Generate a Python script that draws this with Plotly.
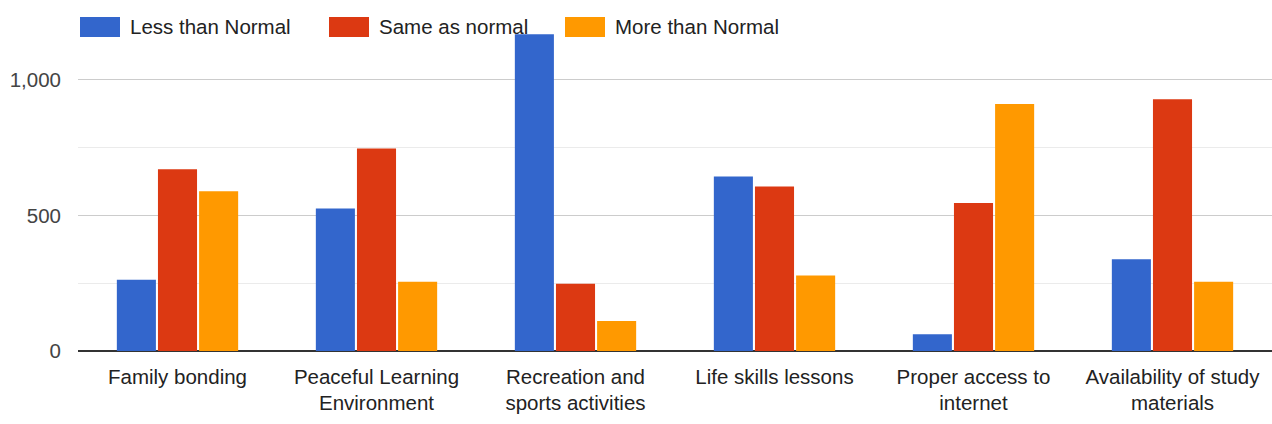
import plotly.graph_objects as go

categories = ["Family bonding", "Peaceful Learning<br>Environment", "Recreation and<br>sports activities",
              "Life skills lessons", "Proper access to<br>internet", "Availability of study<br>materials"]
series_names = ["Less than Normal", "Same as normal", "More than Normal"]
less_than_normal = [263, 525, 1168, 643, 62, 338]
same_as_normal = [670, 747, 248, 607, 546, 928]
more_than_normal = [589, 255, 111, 278, 911, 255]
colors = ["#3366cc", "#dc3912", "#ff9900"]
y_tickvals = [0, 500, 1000]
y_ticktext = ["0", "500", "1,000"]

W, H = 1272, 424
L, R, T, B = 78, 0, 12, 73

fig = go.Figure()
for name, vals, c in zip(series_names, [less_than_normal, same_as_normal, more_than_normal], colors):
    fig.add_trace(go.Bar(x=categories, y=vals, name=name, marker=dict(color=c, line=dict(width=0)),
                         showlegend=False))

fig.update_layout(
    width=W, height=H,
    margin=dict(l=L, r=R, t=T, b=B, autoexpand=False),
    paper_bgcolor="white", plot_bgcolor="white",
    barmode="group", bargap=0.38, bargroupgap=0.05,
    font=dict(family="Liberation Sans, Arial, sans-serif", size=20, color="#222222"),
)
fig.update_xaxes(showgrid=False, showline=False, ticks="", ticklabelstandoff=11,
                 tickfont=dict(size=20.5, color="#222222"))
fig.update_yaxes(range=[0, 1250], tickvals=y_tickvals, ticktext=y_ticktext,
                 showgrid=True, gridcolor="#cccccc", gridwidth=1,
                 minor=dict(tickvals=[250, 750, 1250], showgrid=True, gridcolor="#ebebeb", gridwidth=1),
                 zeroline=True, zerolinecolor="#333333", zerolinewidth=2,
                 showline=False, ticks="", ticklabelstandoff=16,
                 tickfont=dict(size=20.5, color="#444444"))

# custom legend
pw = W - L - R
ph = H - T - B
def px_x(x):
    return (x - L) / pw
def px_y(y):
    return (H - B - y) / ph

legend_x = [80, 329, 565]
for name, c, x0 in zip(series_names, colors, legend_x):
    fig.add_shape(type="rect", xref="paper", yref="paper",
                  x0=px_x(x0), x1=px_x(x0 + 40), y0=px_y(37), y1=px_y(17),
                  fillcolor=c, line=dict(width=0), layer="above")
    fig.add_annotation(xref="paper", yref="paper", x=px_x(x0 + 48), y=px_y(27),
                       text=name, showarrow=False, xanchor="left", yanchor="middle",
                       font=dict(size=20.5, color="#222222"))

fig.write_html("out.html")
